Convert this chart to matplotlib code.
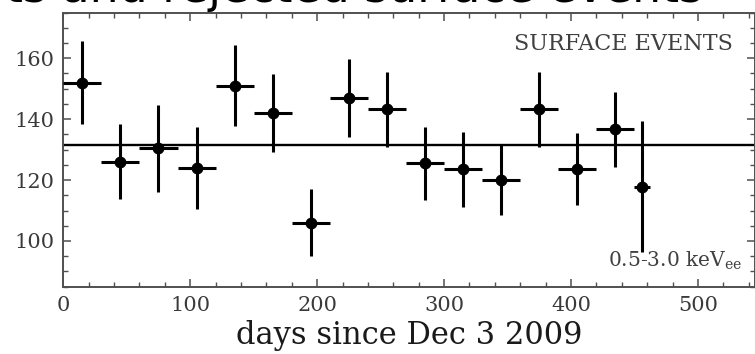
import numpy as np
import matplotlib
matplotlib.use("Agg")
import matplotlib.pyplot as plt
from matplotlib.ticker import MultipleLocator

# Surface event rate per 30-day bin
days = [15, 45, 75, 105, 135, 165, 195, 225, 255, 285, 315, 345, 375, 405, 435, 456]
day_halfwidth = [15, 15, 15, 15, 15, 15, 15, 15, 15, 15, 15, 15, 15, 15, 15, 6]
rate = [152, 126, 130.5, 124, 151, 142, 106, 147, 143.3, 125.5, 123.5, 120, 143.3, 123.5, 136.6, 117.8]
rate_err = [13.5, 12.3, 14.3, 13.5, 13.2, 12.9, 11.0, 12.8, 12.3, 12.0, 12.4, 11.5, 12.3, 11.8, 12.3, 21.5]
mean_rate = 131.5

plt.rcParams['font.family'] = 'DejaVu Serif'
plt.rcParams['mathtext.fontset'] = 'dejavuserif'

W, H = 755, 354
fig = plt.figure(figsize=(W / 100, H / 100), dpi=100)
left, bottom, top = 63.3, 67.3, 12.5
ax = fig.add_axes([left / W, bottom / H, 1 - left / W, (H - bottom - top) / H])

ax.axhline(mean_rate, color='black', lw=1.7, zorder=2)
ax.errorbar(days, rate, xerr=day_halfwidth, yerr=rate_err, fmt='o', color='black',
            ms=7.5, elinewidth=2.2, capsize=0, zorder=3)

ax.set_xlim(0, 545)
ax.set_ylim(85, 175)
ax.xaxis.set_major_locator(MultipleLocator(100))
ax.xaxis.set_minor_locator(MultipleLocator(20))
ax.yaxis.set_major_locator(MultipleLocator(20))
ax.yaxis.set_minor_locator(MultipleLocator(5))

grey = '#505050'
for s in ax.spines.values():
    s.set_color(grey)
    s.set_linewidth(1.4)
ax.tick_params(which='both', direction='in', top=True, right=True, color=grey,
               labelcolor='#3a3a3a', labelsize=15)
ax.tick_params(which='major', length=6, width=1.1, pad=6.5)
ax.tick_params(which='minor', length=3.5, width=1.0)

ax.set_xlabel('days since Dec 3 2009', fontsize=22, color='#1a1a1a', labelpad=3.5)

fig.text(733 / W, 1 - 44.5 / H, 'SURFACE EVENTS', ha='right', va='center',
         fontsize=16, color='#404040')
fig.text(742 / W, 1 - 267 / H, r'0.5-3.0 keV$_{\rm ee}$', ha='right', va='baseline',
         fontsize=14.5, color='#404040')

# slide heading, running off the top edge
fig.text(703 / W, 1 - 2 / H, 'ts and rejected surface events', ha='right', va='baseline',
         fontsize=33, family='DejaVu Sans', color='black')

fig.savefig('out.png', dpi=100)
